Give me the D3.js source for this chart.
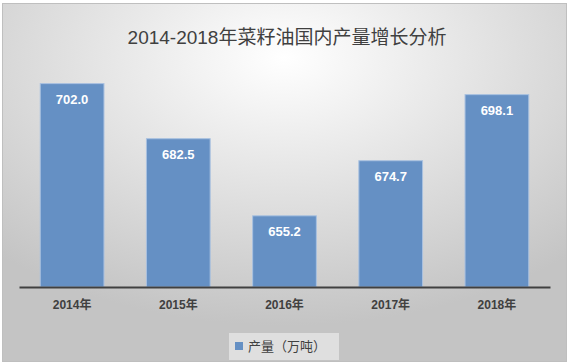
<!DOCTYPE html>
<html lang="zh">
<head>
<meta charset="utf-8">
<title>2014-2018年菜籽油国内产量增长分析</title>
<script src="https://cdn.jsdelivr.net/npm/d3@7"></script>
<style>
 body { margin: 0; background: #fff; }
 text { font-family: "Liberation Sans", "Noto Sans CJK SC", sans-serif; }
</style>
</head>
<body>
<script>
// data
const years = ['2014年', '2015年', '2016年', '2017年', '2018年'];
const output = [702.0, 682.5, 655.2, 674.7, 698.1];
const seriesName = '产量（万吨）';
const title = '2014-2018年菜籽油国内产量增长分析';

const W = 570, H = 364;
const svg = d3.select('body').append('svg')
    .attr('width', W).attr('height', H);

// background gradient
const defs = svg.append('defs');
const grad = defs.append('radialGradient')
    .attr('id', 'bg')
    .attr('cx', '50%').attr('cy', '15%').attr('r', '75%')
    .attr('fx', '50%').attr('fy', '15%');
grad.append('stop').attr('offset', '0%').attr('stop-color', '#ffffff');
grad.append('stop').attr('offset', '100%').attr('stop-color', '#c4c4c4');

svg.append('rect')
    .attr('x', 2.5).attr('y', 3.5)
    .attr('width', 564).attr('height', 358)
    .attr('fill', 'url(#bg)')
    .attr('stroke', '#bfbfbf');

svg.append('text')
    .attr('x', 287).attr('y', 44)
    .attr('text-anchor', 'middle')
    .style('font-size', '19px')
    .style('fill', '#404040')
    .text(title);

// plot area
const plot = {left: 19, right: 550, top: 61, bottom: 287};

const x = d3.scaleBand()
    .domain(years)
    .range([plot.left, plot.right])
    .paddingInner(0.4)
    .paddingOuter(0.2);

const y = d3.scaleLinear()
    .domain([630, 710])
    .range([plot.bottom, plot.top]);

// bars
svg.selectAll('.bar')
    .data(output)
    .enter()
    .append('rect')
    .attr('class', 'bar')
    .attr('x', (d, i) => x(years[i]))
    .attr('y', d => y(d))
    .attr('width', x.bandwidth())
    .attr('height', d => y.range()[0] - y(d))
    .style('fill', '#6590c4')
    .style('stroke', '#a9c1e0')
    .style('stroke-width', 1);

// value labels
svg.selectAll('.val')
    .data(output)
    .enter()
    .append('text')
    .attr('class', 'val')
    .attr('x', (d, i) => x(years[i]) + x.bandwidth() / 2)
    .attr('y', d => y(d) + 20)
    .attr('text-anchor', 'middle')
    .style('font-size', '13px')
    .style('font-weight', 'bold')
    .style('fill', '#ffffff')
    .text(d => d3.format('.1f')(d));

// x axis
const xAxis = svg.append('g')
    .attr('transform', 'translate(0,' + plot.bottom + ')')
    .call(d3.axisBottom(x).tickSize(0).tickPadding(13));
xAxis.select('.domain')
    .attr('stroke', '#404040')
    .attr('stroke-width', 2);
xAxis.selectAll('text')
    .style('font-size', '12px')
    .style('font-weight', 'bold')
    .style('fill', '#404040')
    .style('font-family', '"Liberation Sans", "Noto Sans CJK SC", sans-serif');

// legend
const lg = svg.append('g').attr('transform', 'translate(229,333)');
lg.append('rect')
    .attr('width', 110).attr('height', 27)
    .style('fill', '#e6e6e6')
    .style('opacity', 0.8);
lg.append('rect')
    .attr('x', 6).attr('y', 9)
    .attr('width', 8).attr('height', 8)
    .style('fill', '#6590c4');
lg.append('text')
    .attr('x', 19).attr('y', 18)
    .style('font-size', '13px')
    .style('fill', '#404040')
    .text(seriesName);
</script>
</body>
</html>
